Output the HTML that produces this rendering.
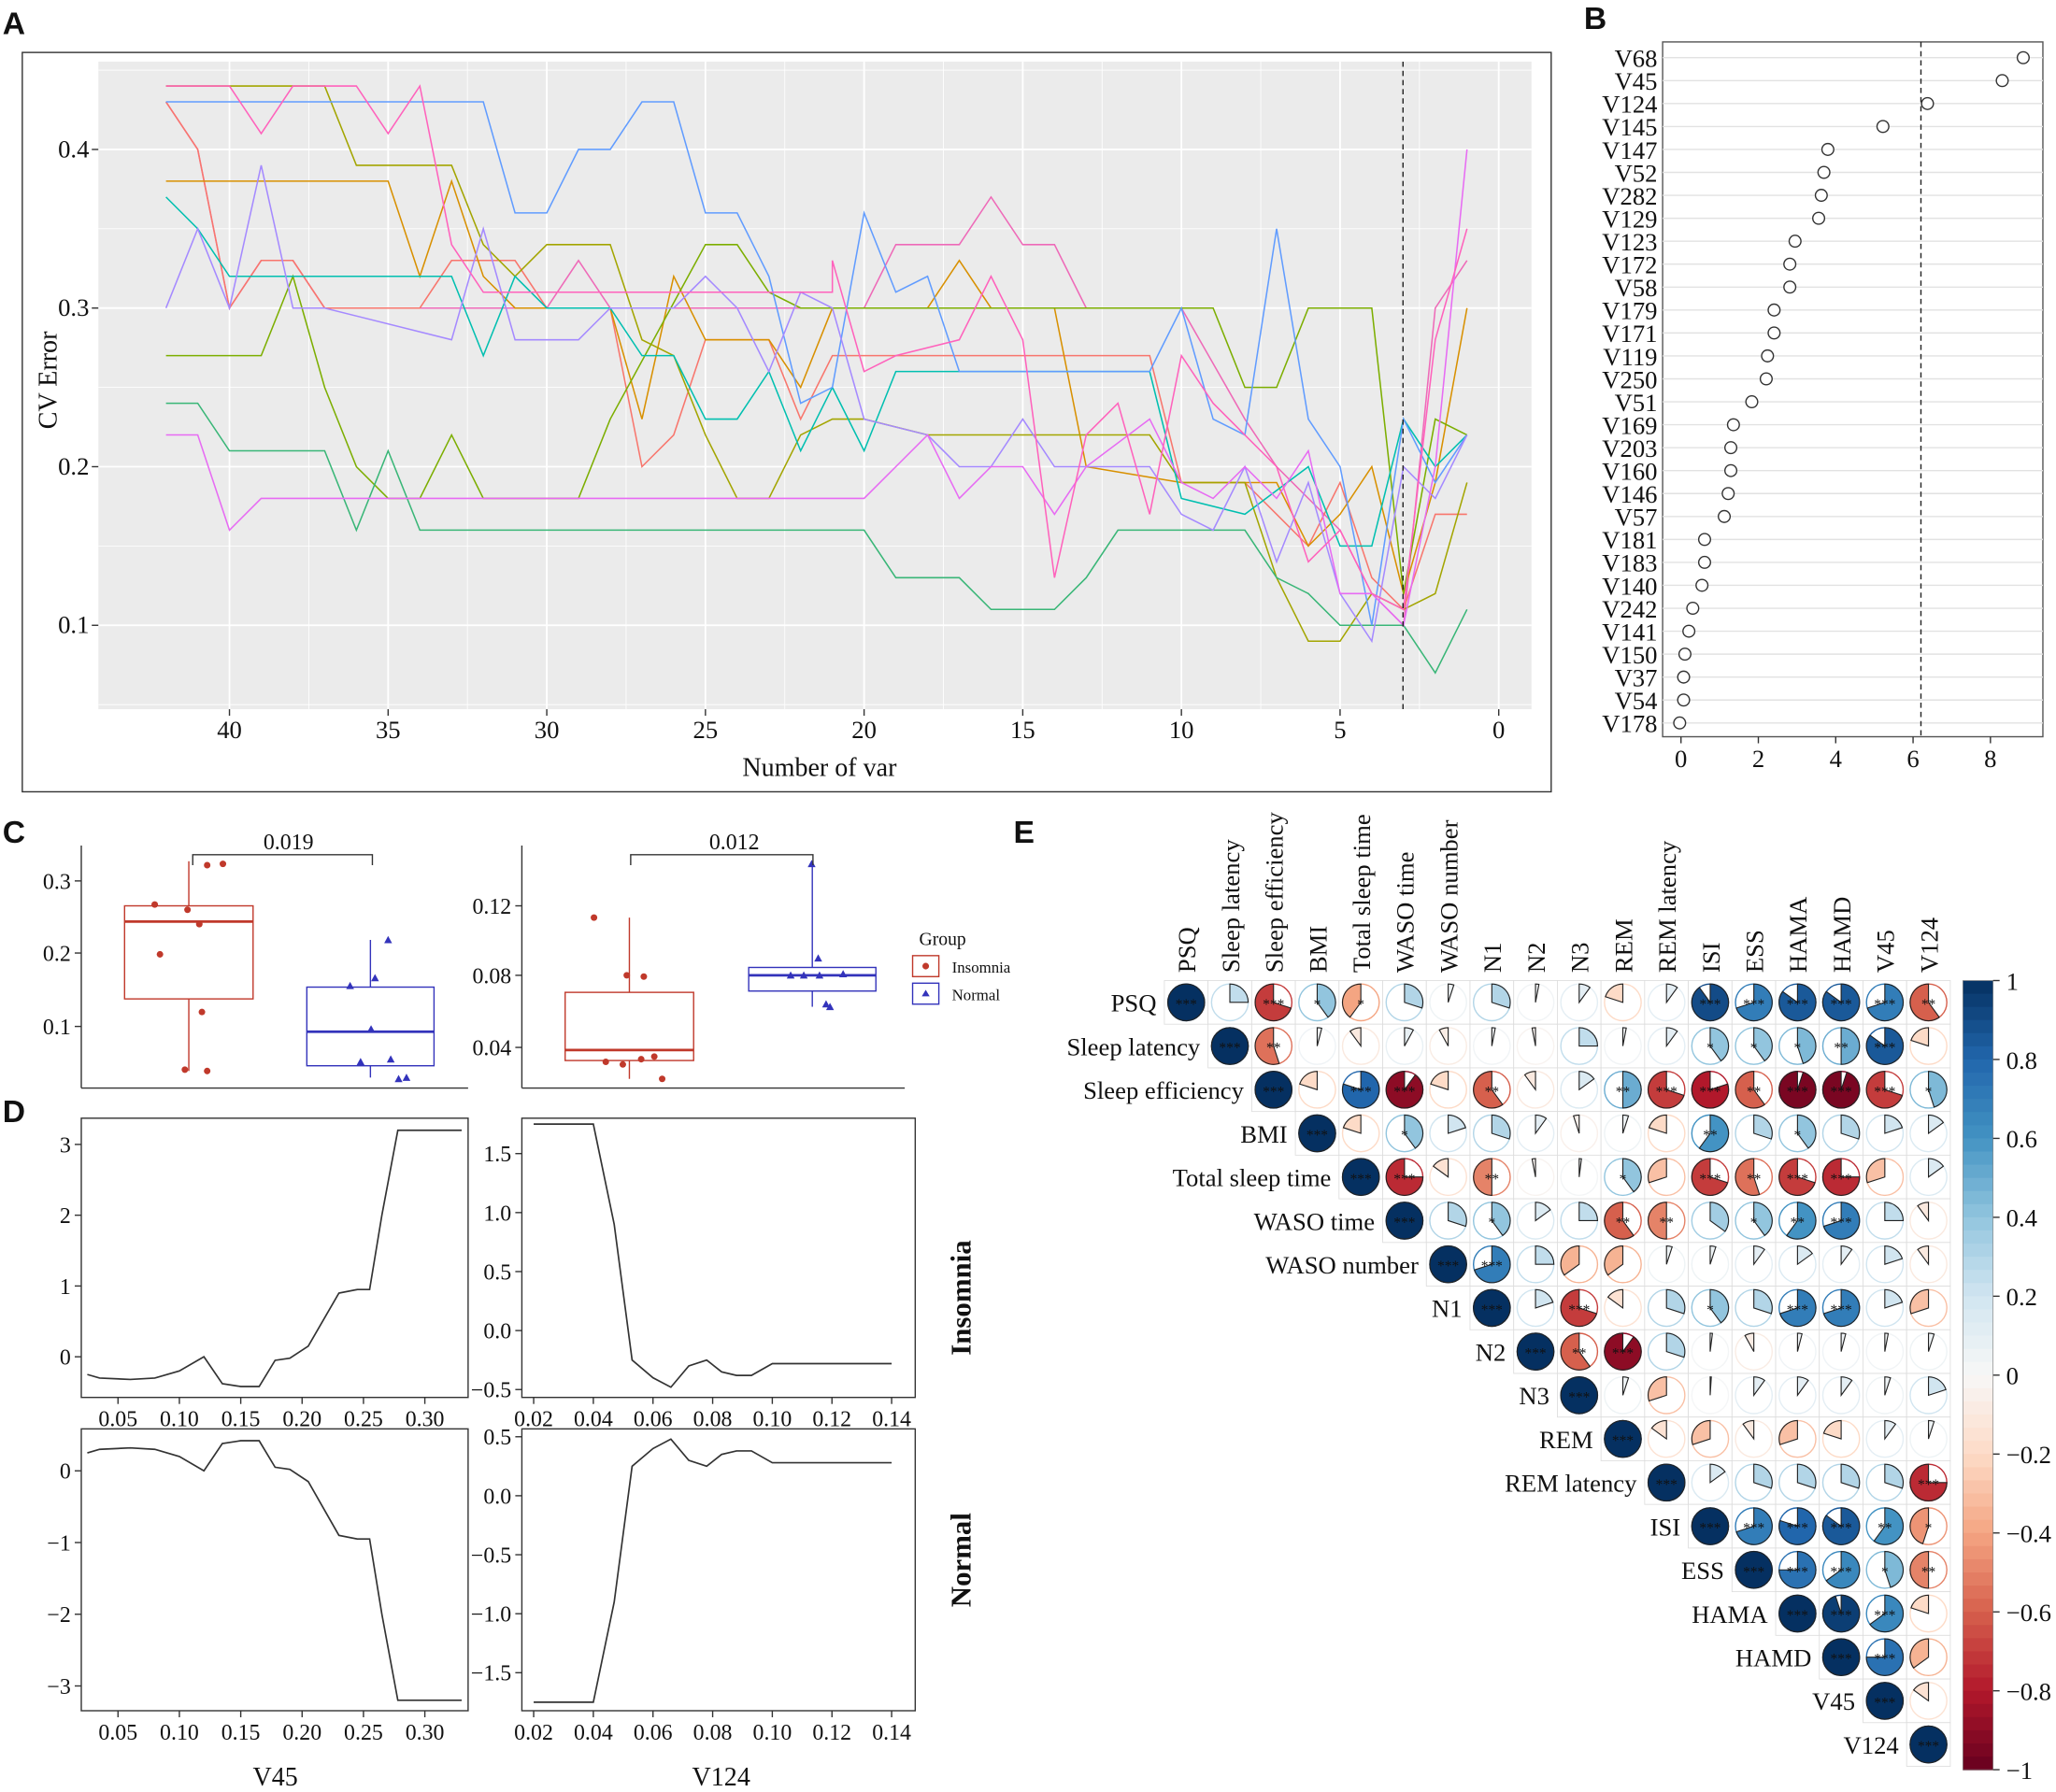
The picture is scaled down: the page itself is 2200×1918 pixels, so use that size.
<!DOCTYPE html>
<html><head><meta charset="utf-8">
<style>
html,body{margin:0;padding:0;background:#fff;}
svg{display:block;}
text{font-family:"Liberation Serif",serif;fill:#111;}
.lt{font-family:"Liberation Sans",sans-serif;font-weight:bold;font-size:24px;}
</style></head>
<body>
<svg id="s" width="2200" height="1918" viewBox="0 0 1568 1367" preserveAspectRatio="none" xmlns="http://www.w3.org/2000/svg">
<rect width="1568" height="1367" fill="#fff"/>
<text class="lt" x="2" y="26">A</text>
<text class="lt" x="1208" y="22">B</text>
<text class="lt" x="2" y="643">C</text>
<text class="lt" x="2" y="856">D</text>
<text class="lt" x="773" y="643">E</text>
<rect x="17" y="40" width="1166" height="564" fill="none" stroke="#333" stroke-width="1"/>
<rect x="75" y="47" width="1093" height="494" fill="#ebebeb"/>
<g id="A"></g><g id="B"></g><g id="C"></g><g id="D"></g><g id="E"></g>
</svg>
<script>
var NS="http://www.w3.org/2000/svg";
function el(p,t,a,txt){var e=document.createElementNS(NS,t);for(var k in a)e.setAttribute(k,a[k]);if(txt!==undefined)e.textContent=txt;p.appendChild(e);return e;}
// ---------- Panel A
var A=document.getElementById('A');
function ax(v){return 1143-v*24.2;} function ay(v){return 477-(v-0.1)*1210;}
for(var v=0;v<=40;v+=2.5){el(A,'line',{x1:ax(v),x2:ax(v),y1:47,y2:541,stroke:'#fff','stroke-width':v%5==0?1.3:0.6});}
for(var y=0.05;y<=0.46;y+=0.05){var yy=ay(y);if(yy<47||yy>541)continue;el(A,'line',{x1:75,x2:1168,y1:yy,y2:yy,stroke:'#fff','stroke-width':Math.round(y*100)%10==0?1.3:0.6});}
for(var v=0;v<=40;v+=5){el(A,'line',{x1:ax(v),x2:ax(v),y1:541,y2:546,stroke:'#333'});el(A,'text',{x:ax(v),y:563,'font-size':19,'text-anchor':'middle'},v);}
[0.1,0.2,0.3,0.4].forEach(function(y){el(A,'line',{x1:70,x2:75,y1:ay(y),y2:ay(y),stroke:'#333'});el(A,'text',{x:68,y:ay(y)+6,'font-size':19,'text-anchor':'end'},y.toFixed(1));});
el(A,'text',{x:625,y:592,'font-size':20,'text-anchor':'middle'},'Number of var');
el(A,'text',{x:43,y:290,'font-size':20,'text-anchor':'middle',transform:'rotate(-90 43 290)'},'CV Error');
var series=[
['#EE6AB8',[[42,.43],[41,.40],[40,.30],[39,.33],[38,.33],[37,.30],[30,.30],[29,.33],[28,.30],[20,.30],[19,.34],[17,.34],[16,.37],[15,.34],[14,.34],[13,.30],[10,.30],[8,.23],[7,.20],[6,.18],[5,.16],[4,.12],[3,.10],[2,.30],[1,.33]]],
['#F8766D',[[42,.43],[41,.40],[40,.30],[39,.33],[38,.33],[37,.30],[34,.30],[33,.33],[31,.33],[30,.30],[28,.30],[27,.20],[26,.22],[25,.28],[23,.28],[22,.23],[21,.27],[11,.27],[10,.19],[8,.19],[7,.17],[6,.15],[5,.19],[4,.13],[3,.11],[2,.17],[1,.17]]],
['#D89000',[[42,.38],[35,.38],[34,.32],[33,.38],[32,.32],[31,.30],[28,.30],[27,.23],[26,.32],[25,.28],[23,.28],[22,.25],[21,.30],[18,.30],[17,.33],[16,.30],[14,.30],[13,.20],[10,.19],[7,.19],[6,.15],[5,.17],[4,.20],[3,.12],[2,.19],[1,.30]]],
['#7CAE00',[[42,.27],[39,.27],[38,.32],[37,.25],[36,.20],[35,.18],[34,.18],[33,.22],[32,.18],[29,.18],[28,.23],[25,.34],[24,.34],[23,.31],[22,.30],[9,.30],[8,.25],[7,.25],[6,.30],[4,.30],[3,.12],[2,.23],[1,.22]]],
['#A3A500',[[42,.44],[37,.44],[36,.39],[33,.39],[32,.34],[31,.32],[30,.34],[28,.34],[27,.28],[26,.27],[25,.22],[24,.18],[23,.18],[22,.22],[21,.23],[20,.23],[18,.22],[11,.22],[10,.19],[8,.19],[7,.13],[6,.09],[5,.09],[4,.12],[3,.11],[2,.12],[1,.19]]],
['#39B677',[[42,.24],[41,.24],[40,.21],[37,.21],[36,.16],[35,.21],[34,.16],[20,.16],[19,.13],[17,.13],[16,.11],[14,.11],[13,.13],[12,.16],[8,.16],[7,.13],[6,.12],[5,.10],[3,.10],[2,.07],[1,.11]]],
['#00BFB0',[[42,.37],[41,.35],[40,.32],[33,.32],[32,.27],[31,.32],[30,.30],[28,.30],[27,.27],[26,.27],[25,.23],[24,.23],[23,.26],[22,.21],[21,.25],[20,.21],[19,.26],[11,.26],[10,.18],[8,.17],[6,.20],[5,.15],[4,.15],[3,.23],[2,.20],[1,.22]]],
['#619CFF',[[42,.43],[32,.43],[31,.36],[30,.36],[29,.40],[28,.40],[27,.43],[26,.43],[25,.36],[24,.36],[23,.32],[22,.24],[21,.25],[20,.36],[19,.31],[18,.32],[17,.26],[11,.26],[10,.30],[9,.23],[8,.22],[7,.35],[6,.23],[5,.20],[4,.10],[3,.23],[2,.19],[1,.22]]],
['#A58AFF',[[42,.30],[41,.35],[40,.30],[39,.39],[38,.30],[37,.30],[33,.28],[32,.35],[31,.28],[29,.28],[28,.30],[26,.30],[25,.32],[24,.30],[23,.26],[22,.31],[21,.30],[20,.23],[18,.22],[17,.20],[16,.20],[15,.23],[14,.20],[11,.20],[10,.17],[9,.16],[8,.20],[7,.14],[6,.19],[5,.12],[4,.09],[3,.20],[2,.18],[1,.22]]],
['#E76BF3',[[42,.22],[41,.22],[40,.16],[39,.18],[20,.18],[19,.20],[18,.22],[17,.18],[16,.20],[15,.20],[14,.17],[13,.20],[11,.23],[10,.19],[9,.18],[8,.20],[7,.18],[6,.21],[5,.12],[4,.12],[3,.10],[2,.20],[1,.40]]],
['#FF62BC',[[42,.44],[40,.44],[39,.41],[38,.44],[36,.44],[35,.41],[34,.44],[33,.34],[32,.31],[21,.31],[21,.33],[20,.26],[19,.27],[17,.28],[16,.32],[15,.28],[14,.13],[13,.22],[12,.24],[11,.17],[10,.27],[9,.24],[8,.22],[7,.20],[6,.14],[5,.16],[4,.12],[3,.11],[2,.28],[1,.35]]]
];
series.forEach(function(s){el(A,'polyline',{points:s[1].map(function(p){return ax(p[0])+','+ay(p[1]);}).join(' '),fill:'none',stroke:s[0],'stroke-width':1.1});});
el(A,'line',{x1:1070,x2:1070,y1:47,y2:541,stroke:'#222','stroke-dasharray':'4,3'});
// ---------- Panel B
var B=document.getElementById('B');
var bl=['V68','V45','V124','V145','V147','V52','V282','V129','V123','V172','V58','V179','V171','V119','V250','V51','V169','V203','V160','V146','V57','V181','V183','V140','V242','V141','V150','V37','V54','V178'];
var bx=[1543,1527,1470,1436,1394,1391,1389,1387,1369,1365,1365,1353,1353,1348,1347,1336,1322,1320,1320,1318,1315,1300,1300,1298,1291,1288,1285,1284,1284,1281];
el(B,'rect',{x:1268,y:32,width:290,height:530,fill:'#fff',stroke:'#555'});
bl.forEach(function(l,i){var y=44+i*17.5;el(B,'line',{x1:1268,x2:1558,y1:y,y2:y,stroke:'#e2e2e2'});el(B,'text',{x:1264,y:y+7,'font-size':19,'text-anchor':'end'},l);el(B,'circle',{cx:bx[i],cy:y,r:4.5,fill:'#fff',stroke:'#333'});});
[0,2,4,6,8].forEach(function(v){var x=1282+v*29.5;el(B,'line',{x1:x,x2:x,y1:562,y2:567,stroke:'#333'});el(B,'text',{x:x,y:585,'font-size':19,'text-anchor':'middle'},v);});
el(B,'line',{x1:1465,x2:1465,y1:32,y2:562,stroke:'#222','stroke-dasharray':'4,3'});
// ---------- Panel C
var C=document.getElementById('C');
function axisL(g,x,y1,y2,ticks){el(g,'line',{x1:x,x2:x,y1:y1,y2:y2,stroke:'#333'});ticks.forEach(function(t){el(g,'line',{x1:x-5,x2:x,y1:t[1],y2:t[1],stroke:'#333'});el(g,'text',{x:x-8,y:t[1]+6,'font-size':17,'text-anchor':'end'},t[0]);});}
axisL(C,62,645,830,[['0.3',672],['0.2',727],['0.1',783]]);el(C,'line',{x1:62,x2:357,y1:830,y2:830,stroke:'#333'});
axisL(C,398,645,830,[['0.12',691],['0.08',744],['0.04',799]]);el(C,'line',{x1:398,x2:690,y1:830,y2:830,stroke:'#333'});
function box(g,x1,x2,b1,b2,md,w1,w2,col,pts,tri){var xc=(x1+x2)/2;el(g,'line',{x1:xc,x2:xc,y1:w1,y2:b1,stroke:col});el(g,'line',{x1:xc,x2:xc,y1:b2,y2:w2,stroke:col});el(g,'rect',{x:x1,y:b1,width:x2-x1,height:b2-b1,fill:'#fff',stroke:col});el(g,'line',{x1:x1,x2:x2,y1:md,y2:md,stroke:col,'stroke-width':2});pts.forEach(function(p){if(tri)el(g,'polygon',{points:(p[0])+','+(p[1]-3)+' '+(p[0]-3)+','+(p[1]+2.5)+' '+(p[0]+3)+','+(p[1]+2.5),fill:col});else el(g,'circle',{cx:p[0],cy:p[1],r:2.5,fill:col});});}
box(C,95,193,691,762,703,657,817,'#C0392B',[[118,690],[122,728],[143,694],[152,705],[158,660],[170,659],[154,772],[141,816],[158,817]]);
box(C,234,331,753,813,787,717,822,'#3333BB',[[267,752],[286,746],[296,717],[298,808],[304,823],[310,822],[283,785],[275,810]],true);
box(C,431,529,757,809,801,700,823,'#C0392B',[[453,700],[478,744],[491,745],[462,810],[475,812],[489,808],[505,823],[499,806]]);
box(C,571,668,738,756,744,659,768,'#3333BB',[[619,659],[603,744],[624,731],[625,744],[643,743],[630,766],[633,768],[613,744]],true);
el(C,'polyline',{points:'147,660 147,652 284,652 284,660',fill:'none',stroke:'#333'});el(C,'text',{x:220,y:648,'font-size':17,'text-anchor':'middle'},'0.019');
el(C,'polyline',{points:'481,660 481,652 620,652 620,660',fill:'none',stroke:'#333'});el(C,'text',{x:560,y:648,'font-size':17,'text-anchor':'middle'},'0.012');
el(C,'text',{x:701,y:721,'font-size':14},'Group');
el(C,'rect',{x:696,y:729,width:20,height:16,fill:'#fff',stroke:'#C0392B'});el(C,'circle',{cx:706,cy:737,r:2.5,fill:'#C0392B'});el(C,'text',{x:726,y:742,'font-size':12},'Insomnia');
el(C,'rect',{x:696,y:750,width:20,height:16,fill:'#fff',stroke:'#3333BB'});el(C,'polygon',{points:'706,755 703,760 709,760',fill:'#3333BB'});el(C,'text',{x:726,y:763,'font-size':12},'Normal');
// ---------- Panel D
var D=document.getElementById('D');
function dplot(x1,x2,y1,y2,yt,xt,xf,yf,pts){el(D,'rect',{x:x1,y:y1,width:x2-x1,height:y2-y1,fill:'#fff',stroke:'#333'});yt.forEach(function(t){var y=yf(t[0]);el(D,'line',{x1:x1-5,x2:x1,y1:y,y2:y,stroke:'#333'});el(D,'text',{x:x1-8,y:y+6,'font-size':17,'text-anchor':'end'},t[1]);});xt.forEach(function(t){var x=xf(t);el(D,'line',{x1:x,x2:x,y1:y2,y2:y2+5,stroke:'#333'});el(D,'text',{x:x,y:y2+22,'font-size':17,'text-anchor':'middle'},t.toFixed(2));});
el(D,'polyline',{points:pts.map(function(p){return xf(p[0])+','+yf(p[1]);}).join(' '),fill:'none',stroke:'#333','stroke-width':1.2});}
var fl=function(v){return 90+(v-0.05)*936;}, fr=function(v){return 407+(v-0.02)*2275;};
var L1=[[0.025,-0.25],[0.035,-0.3],[0.06,-0.32],[0.08,-0.3],[0.1,-0.2],[0.12,0.0],[0.135,-0.38],[0.15,-0.42],[0.165,-0.42],[0.178,-0.05],[0.19,-0.02],[0.205,0.15],[0.23,0.9],[0.245,0.95],[0.255,0.95],[0.265,2],[0.278,3.2],[0.33,3.2]];
var R1=[[0.02,1.75],[0.04,1.75],[0.047,0.9],[0.053,-0.25],[0.06,-0.4],[0.066,-0.48],[0.072,-0.3],[0.078,-0.25],[0.083,-0.35],[0.088,-0.38],[0.093,-0.38],[0.1,-0.28],[0.14,-0.28]];
dplot(62,357,853,1066,[[3,'3'],[2,'2'],[1,'1'],[0,'0']],[0.05,0.10,0.15,0.20,0.25,0.30],fl,function(v){return 1035-v*54;},L1);
dplot(62,357,1090,1305,[[0,'0'],[-1,'−1'],[-2,'−2'],[-3,'−3']],[0.05,0.10,0.15,0.20,0.25,0.30],fl,function(v){return 1122-v*54.7;},L1.map(function(p){return [p[0],-p[1]];}));
dplot(398,698,853,1066,[[1.5,'1.5'],[1.0,'1.0'],[0.5,'0.5'],[0,'0.0'],[-0.5,'−0.5']],[0.02,0.04,0.06,0.08,0.10,0.12,0.14],fr,function(v){return 1015-v*90;},R1);
dplot(398,698,1090,1305,[[0.5,'0.5'],[0,'0.0'],[-0.5,'−0.5'],[-1,'−1.0'],[-1.5,'−1.5']],[0.02,0.04,0.06,0.08,0.10,0.12,0.14],fr,function(v){return 1141-v*90;},R1.map(function(p){return [p[0],-p[1]];}));
el(D,'text',{x:740,y:990,'font-size':22,'font-weight':'bold','text-anchor':'middle',transform:'rotate(-90 740 990)'},'Insomnia');
el(D,'text',{x:740,y:1190,'font-size':22,'font-weight':'bold','text-anchor':'middle',transform:'rotate(-90 740 1190)'},'Normal');
el(D,'text',{x:210,y:1362,'font-size':20,'text-anchor':'middle'},'V45');
el(D,'text',{x:550,y:1362,'font-size':20,'text-anchor':'middle'},'V124');
// ---------- Panel E
var E=document.getElementById('E');
var names=['PSQ','Sleep latency','Sleep efficiency','BMI','Total sleep time','WASO time','WASO number','N1','N2','N3','REM','REM latency','ISI','ESS','HAMA','HAMD','V45','V124'];
var U=[
[.25,-.7,.4,-.4,.3,.05,.3,.03,.1,-.2,.1,.9,.7,.85,.85,.7,-.6],
[-.55,.04,-.1,.08,-.08,.03,-.03,.25,.03,.1,.4,.4,.45,.5,.85,-.2],
[-.2,.8,-.9,-.2,-.6,-.1,.15,.5,-.7,-.8,-.6,-.95,-.95,-.7,.45],
[-.2,.4,.2,.3,.1,-.05,.05,-.2,.6,.3,.4,.3,.2,.15],
[-.75,-.15,-.5,-.03,.02,.4,-.3,-.7,-.55,-.7,-.75,-.3,.15],
[.3,.4,.15,.25,-.6,-.5,.35,.4,.6,.7,.25,-.1],
[.7,.25,-.35,-.35,.05,.05,.1,.15,.1,.2,-.1],
[.2,-.7,-.15,.3,.4,.3,.7,.7,.2,-.3],
[-.6,-.9,.3,.02,-.08,.04,.04,.03,.05],
[.05,-.3,.01,.1,.1,.1,.05,.2],
[-.15,-.3,-.1,-.3,-.2,.1,.05],
[.15,.3,.3,.3,.3,-.75],
[.7,.8,.85,.6,-.45],
[.75,.65,.45,-.5],
[.95,.65,-.2],
[.75,-.35],
[-.15]];
var stops=[[-1,[103,0,31]],[-0.8,[178,24,43]],[-0.6,[214,96,77]],[-0.4,[244,165,130]],[-0.2,[253,219,199]],[0,[247,247,247]],[0.2,[209,229,240]],[0.4,[146,197,222]],[0.6,[67,147,195]],[0.8,[33,102,172]],[1,[5,48,97]]];
function col(v){for(var i=0;i<stops.length-1;i++){if(v<=stops[i+1][0]){var t=(v-stops[i][0])/0.2,a=stops[i][1],b=stops[i+1][1];return 'rgb('+a.map(function(c,k){return Math.round(c+(b[k]-c)*t);}).join(',')+')';}}return 'rgb(5,48,97)';}
var cs=33.3,gx=888,gy=748,R=14;
for(var i=0;i<18;i++){for(var j=i;j<18;j++){var r=(i==j)?1:U[i][j-i-1];var cx=gx+cs*j+cs/2,cy=gy+cs*i+cs/2;
el(E,'rect',{x:gx+cs*j,y:gy+cs*i,width:cs,height:cs,fill:'#fff',stroke:'#ddd','stroke-width':0.6});
var c=col(r);el(E,'circle',{cx:cx,cy:cy,r:R,fill:'none',stroke:c,'stroke-width':1});
var a=Math.abs(r);if(a>=0.999){el(E,'circle',{cx:cx,cy:cy,r:R,fill:c,stroke:'#222','stroke-width':0.8});}
else if(a>0.005){var ang=2*Math.PI*a*(r>0?1:-1);var ex=cx+R*Math.sin(ang),ey=cy-R*Math.cos(ang);
el(E,'path',{d:'M'+cx+','+cy+' L'+cx+','+(cy-R)+' A'+R+','+R+' 0 '+(a>0.5?1:0)+','+(r>0?1:0)+' '+ex+','+ey+' Z',fill:c,stroke:'#222','stroke-width':0.8});}
var st=a>0.6?'***':a>0.45?'**':a>0.35?'*':'';if(st)el(E,'text',{x:cx,y:cy+5,'font-size':11,'text-anchor':'middle'},st);
}
el(E,'text',{x:gx+cs*i-6,y:gy+cs*i+cs/2+7,'font-size':19,'text-anchor':'end'},names[i]);
var tx=gx+cs*i+cs/2+7,ty=gy-6;el(E,'text',{x:tx,y:ty,'font-size':19,transform:'rotate(-90 '+tx+' '+ty+')'},names[i]);}
var N=60;for(var k=0;k<N;k++){var v=1-2*(k+0.5)/N;el(E,'rect',{x:1497,y:748+k*602/N,width:23,height:602/N+0.5,fill:col(v)});}
el(E,'rect',{x:1497,y:748,width:23,height:602,fill:'none',stroke:'#888','stroke-width':0.5});
[1,0.8,0.6,0.4,0.2,0,-0.2,-0.4,-0.6,-0.8,-1].forEach(function(v){var y=748+(1-v)/2*602;el(E,'line',{x1:1520,x2:1525,y1:y,y2:y,stroke:'#333'});el(E,'text',{x:1530,y:y+7,'font-size':19},(v<0?'−':'')+(Math.abs(v)==1||v==0?Math.abs(v):Math.abs(v).toFixed(1)));});
</script>
</body></html>
